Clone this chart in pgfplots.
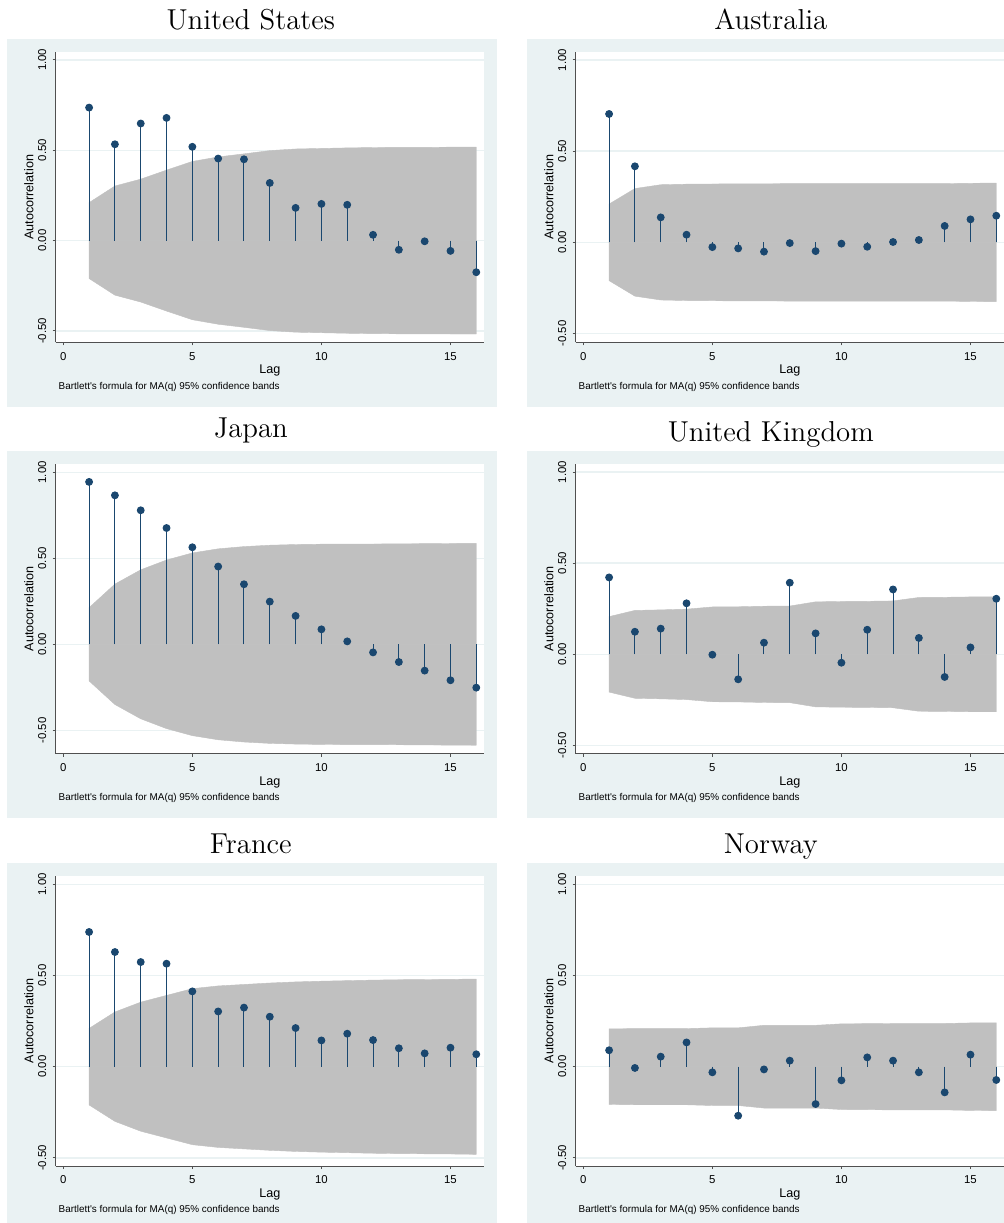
\documentclass[border=0pt]{standalone}
\usepackage{fontspec}
\usepackage{pgfplots}
\pgfplotsset{compat=1.18}
\usepackage{pgfplotstable}
\newfontfamily\arial{Liberation Sans}
\definecolor{stnavy}{RGB}{26,71,111}
\definecolor{stbg}{RGB}{234,242,243}
\definecolor{stband}{RGB}{192,192,192}
\definecolor{staxis}{RGB}{80,80,80}

\pgfplotstableread{
lag ac up lo
1 0.736 0.210 -0.210
2 0.533 0.302 -0.302
3 0.648 0.340 -0.340
4 0.679 0.390 -0.390
5 0.519 0.438 -0.438
6 0.454 0.463 -0.463
7 0.450 0.480 -0.480
8 0.319 0.498 -0.498
9 0.181 0.507 -0.507
10 0.203 0.510 -0.510
11 0.198 0.513 -0.513
12 0.032 0.515 -0.515
13 -0.051 0.516 -0.516
14 -0.004 0.516 -0.516
15 -0.057 0.517 -0.517
16 -0.175 0.517 -0.517
}\US
\pgfplotstableread{
lag ac up lo
1 0.704 0.210 -0.210
2 0.417 0.295 -0.295
3 0.137 0.316 -0.316
4 0.042 0.319 -0.319
5 -0.026 0.320 -0.320
6 -0.033 0.321 -0.321
7 -0.051 0.321 -0.321
8 -0.004 0.322 -0.322
9 -0.048 0.322 -0.322
10 -0.007 0.322 -0.322
11 -0.024 0.322 -0.322
12 0.002 0.322 -0.322
13 0.013 0.322 -0.322
14 0.090 0.322 -0.322
15 0.126 0.324 -0.324
16 0.146 0.325 -0.325
}\AU
\pgfplotstableread{
lag ac up lo
1 0.944 0.213 -0.213
2 0.866 0.350 -0.350
3 0.779 0.433 -0.433
4 0.676 0.490 -0.490
5 0.564 0.531 -0.531
6 0.452 0.555 -0.555
7 0.349 0.568 -0.568
8 0.248 0.576 -0.576
9 0.165 0.580 -0.580
10 0.087 0.582 -0.582
11 0.017 0.583 -0.583
12 -0.047 0.583 -0.583
13 -0.103 0.584 -0.584
14 -0.153 0.585 -0.585
15 -0.209 0.586 -0.586
16 -0.252 0.587 -0.587
}\JP
\pgfplotstableread{
lag ac up lo
1 0.422 0.207 -0.207
2 0.124 0.241 -0.241
3 0.141 0.244 -0.244
4 0.280 0.248 -0.248
5 -0.002 0.260 -0.260
6 -0.137 0.261 -0.261
7 0.064 0.264 -0.264
8 0.393 0.265 -0.265
9 0.115 0.288 -0.288
10 -0.046 0.290 -0.290
11 0.135 0.291 -0.291
12 0.356 0.293 -0.293
13 0.090 0.312 -0.312
14 -0.124 0.313 -0.313
15 0.038 0.315 -0.315
16 0.305 0.315 -0.315
}\UK
\pgfplotstableread{
lag ac up lo
1 0.739 0.210 -0.210
2 0.629 0.300 -0.300
3 0.574 0.354 -0.354
4 0.565 0.391 -0.391
5 0.413 0.428 -0.428
6 0.303 0.443 -0.443
7 0.324 0.451 -0.451
8 0.274 0.459 -0.459
9 0.212 0.465 -0.465
10 0.144 0.469 -0.469
11 0.181 0.472 -0.472
12 0.146 0.475 -0.475
13 0.101 0.477 -0.477
14 0.073 0.478 -0.478
15 0.104 0.479 -0.479
16 0.068 0.481 -0.481
}\FR
\pgfplotstableread{
lag ac up lo
1 0.090 0.207 -0.207
2 -0.007 0.209 -0.209
3 0.055 0.209 -0.209
4 0.133 0.209 -0.209
5 -0.031 0.213 -0.213
6 -0.269 0.213 -0.213
7 -0.015 0.227 -0.227
8 0.033 0.227 -0.227
9 -0.205 0.227 -0.227
10 -0.075 0.235 -0.235
11 0.051 0.236 -0.236
12 0.033 0.237 -0.237
13 -0.031 0.237 -0.237
14 -0.141 0.237 -0.237
15 0.066 0.240 -0.240
16 -0.073 0.241 -0.241
}\NO

\pgfplotsset{
  acfstyle/.style={
    scale only axis, width=214.3pt, height=145pt,
    xmin=-0.294, xmax=16.31,
    clip mode=individual,
    axis lines=left,
    axis line style={-, draw=staxis, line width=0.5pt},
    axis background/.style={fill=white},
    xtick={0,5,10,15}, ytick={-0.5,0,0.5,1},
    yticklabels={-0.50,0.00,0.50,1.00},
    tick align=outside, major tick length=1.5pt,
    tick style={draw=staxis, line width=0.5pt},
    ymajorgrids, grid style={draw=stbg, line width=0.7pt},
    every tick label/.append style={font=\arial\fontsize{5.7}{6}\selectfont, text=black},
    /pgf/number format/assume math mode=true,
    yticklabel style={rotate=90, anchor=south, inner xsep=0pt, inner ysep=3pt},
    xticklabel style={anchor=base, inner sep=0pt, yshift=-7.4pt},
    xlabel={Lag},
    xlabel style={font=\arial\fontsize{6.3}{7}\selectfont, at={(axis description cs:0.5,-0.1083)}, anchor=base, inner sep=0pt},
    ylabel={Autocorrelation},
    ylabel style={font=\arial\fontsize{6.3}{7}\selectfont, at={(axis description cs:-0.0523,0.5)}, anchor=base, inner sep=0pt},
  },
  band/.style={fill=stband, draw=stband, line width=0.2pt},
  stems/.style={ycomb, draw=stnavy, line width=0.5pt, mark=*, mark size=1.7pt, mark options={fill=stnavy, draw=stnavy}},
}
\newcommand{\note}{\node[font=\arial\fontsize{4.95}{6}\selectfont, anchor=base west, inner sep=0pt] at (axis description cs:0.006,-0.162) {Bartlett's formula for MA(q) 95\% confidence bands};}
\newcommand{\acfplots}[1]{%
  \addplot[band] table[x=lag,y=up]{#1} \closedcycle;
  \addplot[band] table[x=lag,y=lo]{#1} \closedcycle;
  \addplot[stems] table[x=lag,y=ac]{#1};
  \note
}

\begin{document}
\begin{tikzpicture}
\fill[white] (0,0) rectangle (502pt,-611.5pt);
% panel backgrounds
\fill[stbg] (3.5pt,-19.5pt) rectangle (248.5pt,-203.35pt);
\fill[stbg] (263.5pt,-19.5pt) rectangle (508.5pt,-203.35pt);
\fill[stbg] (3.5pt,-225.5pt) rectangle (248.5pt,-409.15pt);
\fill[stbg] (263.5pt,-225.5pt) rectangle (508.5pt,-409.15pt);
\fill[stbg] (3.5pt,-431.65pt) rectangle (248.5pt,-615pt);
\fill[stbg] (263.5pt,-431.65pt) rectangle (508.5pt,-615pt);
% titles
\node[anchor=base, inner sep=0pt, font=\fontsize{14.4}{17}\selectfont] at (125.4pt,-14.65pt) {United States};
\node[anchor=base, inner sep=0pt, font=\fontsize{14.4}{17}\selectfont] at (385.4pt,-14.65pt) {Australia};
\node[anchor=base, inner sep=0pt, font=\fontsize{14.4}{17}\selectfont] at (125.4pt,-218.75pt) {Japan};
\node[anchor=base, inner sep=0pt, font=\fontsize{14.4}{17}\selectfont] at (385.4pt,-220.75pt) {United Kingdom};
\node[anchor=base, inner sep=0pt, font=\fontsize{14.4}{17}\selectfont] at (125.4pt,-426.75pt) {France};
\node[anchor=base, inner sep=0pt, font=\fontsize{14.4}{17}\selectfont] at (385.4pt,-426.75pt) {Norway};

\begin{axis}[acfstyle, at={(27.85pt,-171.15pt)}, anchor=south west, ymin=-0.563, ymax=1.042]
\acfplots{\US}
\end{axis}
\begin{axis}[acfstyle, at={(287.85pt,-171.15pt)}, anchor=south west, ymin=-0.548, ymax=1.042]
\acfplots{\AU}
\end{axis}
\begin{axis}[acfstyle, at={(27.85pt,-376.85pt)}, anchor=south west, height=144.85pt, ymin=-0.636, ymax=1.048]
\acfplots{\JP}
\end{axis}
\begin{axis}[acfstyle, at={(287.85pt,-376.85pt)}, anchor=south west, height=144.85pt, ymin=-0.545, ymax=1.044]
\acfplots{\UK}
\end{axis}
\begin{axis}[acfstyle, at={(27.85pt,-583pt)}, anchor=south west, ymin=-0.545, ymax=1.046]
\acfplots{\FR}
\end{axis}
\begin{axis}[acfstyle, at={(287.85pt,-583pt)}, anchor=south west, ymin=-0.545, ymax=1.046]
\acfplots{\NO}
\end{axis}
\pgfresetboundingbox
\useasboundingbox (0,0) rectangle (502pt,-611.5pt);
\end{tikzpicture}
\end{document}
